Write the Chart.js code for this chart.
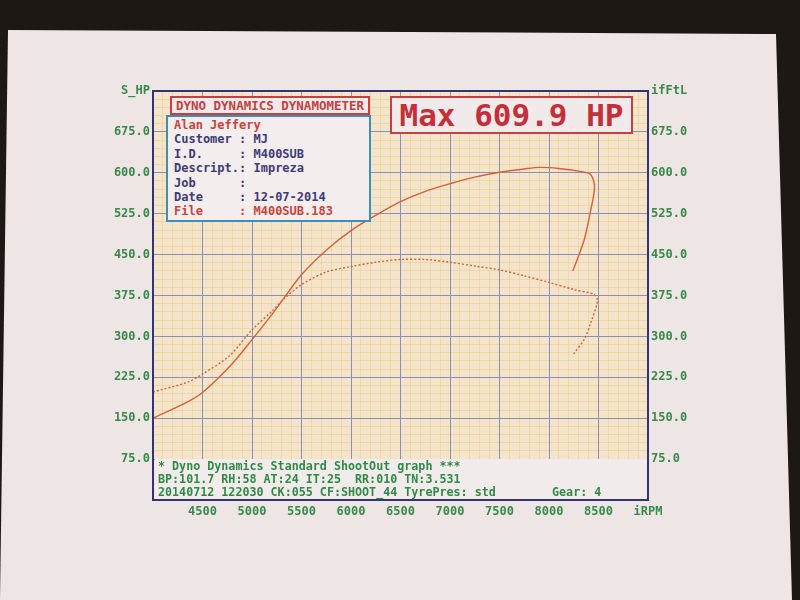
<!DOCTYPE html>
<html>
<head>
<meta charset="utf-8">
<script src="https://cdn.jsdelivr.net/npm/chart.js@4"></script>
<style>
  html, body { margin: 0; padding: 0; }
  body { width: 800px; height: 600px; background: #1d1814; position: relative; overflow: hidden; }
  #paper { position: absolute; left: 0; top: 0; width: 800px; height: 600px; background: #eee5e5;
           clip-path: polygon(8px 30px, 776px 34px, 792px 600px, 0px 600px); }
  #wrap { position: absolute; left: 0; top: 0; width: 800px; height: 600px; }
  .box { position: absolute; box-sizing: border-box; font-family: "DejaVu Sans Mono", monospace; font-weight: bold; white-space: pre; }
  #title { left: 170px; top: 96px; width: 200px; height: 19px; border: 2px solid #c64040; background: #f2eaea;
           color: #c64040; font-size: 12.5px; line-height: 15px; text-align: center; }
  #info { left: 166px; top: 115px; width: 205px; height: 107px; border: 2px solid #3b8fb8; background: #f3eded;
          color: #3c3c78; font-size: 12px; line-height: 14.4px; padding: 1px 0 0 6px; }
  #info .red { color: #c8453c; }
  #maxbox { left: 390px; top: 96px; width: 243px; height: 38px; border: 2px solid #c64040; background: #f2eaea;
            color: #c4303a; font-size: 31px; line-height: 34px; text-align: center; }
  #foot { left: 155px; top: 459px; width: 492px; height: 40px; background: #f1ebeb; color: #2f8a45;
          font-size: 11.7px; line-height: 13px; padding: 1px 0 0 3px; }
</style>
</head>
<body>
<div id="paper"></div>
<div id="wrap"><canvas id="c" width="800" height="600"></canvas></div>
<div class="box" id="title">DYNO DYNAMICS DYNAMOMETER</div>
<div class="box" id="info"><span class="red">Alan Jeffery</span>
Customer : MJ
I.D.     : M400SUB
Descript.: Impreza
Job      :
Date     : 12-07-2014
<span class="red">File     : M400SUB.183</span></div>
<div class="box" id="maxbox">Max 609.9 HP</div>
<div class="box" id="foot">* Dyno Dynamics Standard ShootOut graph ***
BP:101.7 RH:58 AT:24 IT:25  RR:010 TN:3.531
20140712 122030 CK:055 CF:SHOOT_44 TyrePres: std        Gear: 4</div>
<script>
// ---- data ----
const powerRpm = [4000, 4350, 4500, 4800, 5000, 5200, 5330, 5500, 5750, 6000, 6250, 6500, 6750, 7000, 7250, 7500, 7750, 7900, 8100, 8300, 8420, 8460, 8420, 8360, 8300, 8240];
const powerHp  = [150, 180, 197, 250, 294, 340, 372, 413, 458, 494, 522, 547, 566, 580, 592, 601, 607, 609.9, 608, 603, 597, 574, 530, 480, 448, 420];
const torqueRpm = [4000, 4350, 4500, 4770, 5000, 5200, 5330, 5500, 5750, 6000, 6250, 6500, 6750, 7000, 7250, 7500, 7750, 8000, 8250, 8450, 8490, 8420, 8360, 8250];
const torqueFtLb = [198, 216, 231, 264, 312, 346, 370, 395, 418, 428, 436, 441, 441, 436, 429, 422, 411, 399, 386, 377, 366, 324, 296, 268];
const xTickLabels = ['', '4500', '5000', '5500', '6000', '6500', '7000', '7500', '8000', '8500', 'iRPM'];
const yLeftLabels = ['', '75.0', '150.0', '225.0', '300.0', '375.0', '450.0', '525.0', '600.0', '675.0', 'S_HP'];
const yRightLabels = ['', '75.0', '150.0', '225.0', '300.0', '375.0', '450.0', '525.0', '600.0', '675.0', 'ifFtL'];

const GREEN = '#378a4a';
const NAVY = '#34346e';
const MAJOR = '#8c90b4';
const MINOR = 'rgba(232, 205, 120, 0.45)';
const CURVE = '#d3623a';
const tickFont = { family: 'DejaVu Sans Mono', size: 12, weight: 'bold' };

const framePlugin = {
  id: 'frame',
  beforeDraw(chart) {
    const a = chart.chartArea, ctx = chart.ctx;
    ctx.save();
    ctx.fillStyle = '#f3e4cb';
    ctx.fillRect(a.left, a.top, a.right - a.left, a.bottom - a.top);
    ctx.restore();
  },
  afterDraw(chart) {
    const a = chart.chartArea, ctx = chart.ctx;
    ctx.save();
    ctx.strokeStyle = NAVY;
    ctx.lineWidth = 2;
    ctx.strokeRect(a.left, a.top, a.right - a.left, a.bottom - a.top);
    ctx.restore();
  }
};

new Chart(document.getElementById('c'), {
  type: 'line',
  data: {
    datasets: [
      { label: 'Power (HP)', data: powerRpm.map((r, i) => ({ x: r, y: powerHp[i] })),
        borderColor: CURVE, borderWidth: 1.4, pointRadius: 0, tension: 0.3, fill: false, xAxisID: 'x', yAxisID: 'y' },
      { label: 'Torque (ft-lb)', data: torqueRpm.map((r, i) => ({ x: r, y: torqueFtLb[i] })),
        borderColor: CURVE, borderWidth: 1.4, borderDash: [2, 2], pointRadius: 0, tension: 0.3, fill: false, xAxisID: 'x', yAxisID: 'y' }
    ]
  },
  options: {
    responsive: false,
    animation: false,
    layout: { padding: { top: 91, left: 0, right: 0, bottom: 0 } },
    plugins: { legend: { display: false }, tooltip: { enabled: false } },
    scales: {
      x: {
        type: 'linear', position: 'bottom', min: 4000, max: 9000,
        ticks: { stepSize: 500, autoSkip: false, maxRotation: 0, color: GREEN, font: tickFont, padding: 5,
                 callback: (v, i) => xTickLabels[i] },
        grid: { color: MAJOR, lineWidth: 1, drawTicks: false, z: -1 },
        border: { display: false },
        afterFit: s => { s.height = 100; }
      },
      xMinor: {
        type: 'linear', position: 'bottom', min: 4000, max: 9000,
        ticks: { stepSize: 100, display: false },
        grid: { color: MINOR, lineWidth: 1, drawTicks: false, z: -2 },
        border: { display: false },
        afterFit: s => { s.height = 0; }
      },
      y: {
        type: 'linear', position: 'left', min: 0, max: 750,
        ticks: { stepSize: 75, autoSkip: false, color: GREEN, font: tickFont, padding: 3,
                 callback: (v, i) => yLeftLabels[i] },
        grid: { color: MAJOR, lineWidth: 1, drawTicks: false, z: -1 },
        border: { display: false },
        afterFit: s => { s.width = 153; }
      },
      yMinor: {
        type: 'linear', position: 'left', min: 0, max: 750,
        ticks: { stepSize: 15, display: false },
        grid: { color: MINOR, lineWidth: 1, drawTicks: false, z: -2 },
        border: { display: false },
        afterFit: s => { s.width = 0; }
      },
      yR: {
        type: 'linear', position: 'right', min: 0, max: 750,
        ticks: { stepSize: 75, autoSkip: false, color: GREEN, font: tickFont, padding: 3,
                 callback: (v, i) => yRightLabels[i] },
        grid: { display: false, drawTicks: false },
        border: { display: false },
        afterFit: s => { s.width = 152; }
      }
    }
  },
  plugins: [framePlugin]
});
</script>
</body>
</html>
